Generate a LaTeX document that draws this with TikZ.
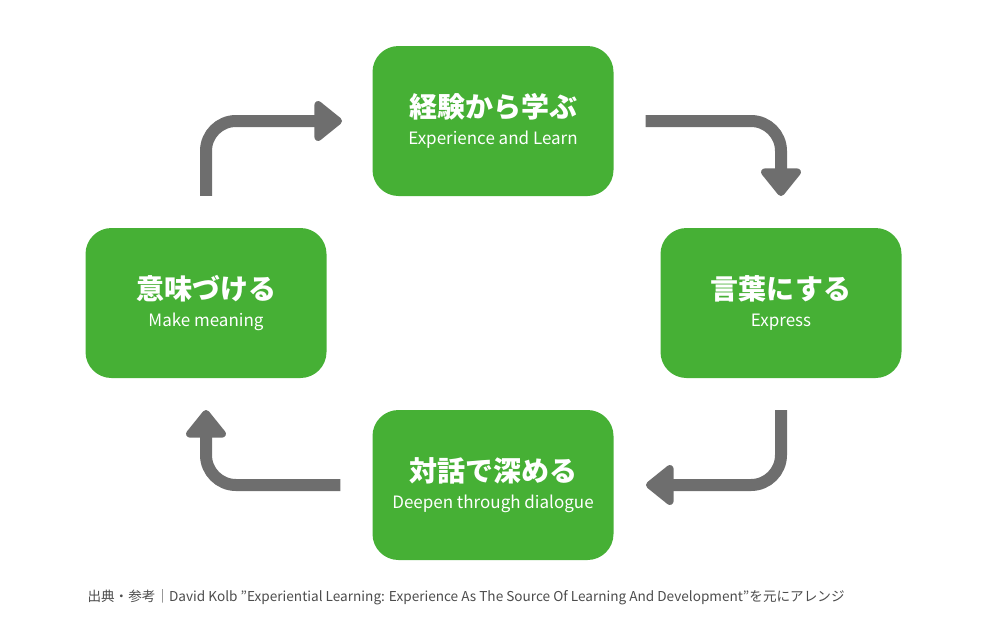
\documentclass[tikz,border=0pt]{standalone}
\usepackage{fontspec}
\setmainfont{Noto Sans CJK JP}
\usetikzlibrary{arrows.meta}
\definecolor{stepgreen}{HTML}{46B035}
\definecolor{flowgray}{HTML}{6E6E6E}
\tikzset{
  stage/.style={fill=stepgreen,rounded corners=26pt,minimum width=241pt,minimum height=150pt,
    text=white,align=center,inner sep=0pt},
  flow/.style={draw=flowgray,line width=12pt,rounded corners=30pt,
    -{Triangle[length=30pt,width=46pt,line join=round,round]}},
}
\newcommand{\stagelabel}[2]{{\fontsize{28}{32}\selectfont\bfseries #1}\\[10pt]{\fontsize{17}{19}\selectfont #2}}
\begin{document}
\begin{tikzpicture}[x=1pt,y=-1pt]
	\useasboundingbox (0,0) rectangle (986,640);
	\node[stage] (learn) at (493,121) {\stagelabel{経験から学ぶ}{Experience and Learn}};
	\node[stage] (express) at (781,303) {\stagelabel{言葉にする}{Express}};
	\node[stage] (dialogue) at (493,485) {\stagelabel{対話で深める}{Deepen through dialogue}};
	\node[stage] (meaning) at (206,303) {\stagelabel{意味づける}{Make meaning}};
	% arrows between stages
	\draw[flow] (meaning.north) ++(0,-32) -- (206,121) -- (342,121);
	\draw[flow] (learn.east) ++(32,0) -- (781,121) -- (781,196);
	\draw[flow] (express.south) ++(0,32) -- (781,485) -- (646,485);
	\draw[flow] (dialogue.west) ++(-32,0) -- (206,485) -- (206,410);
	\node[anchor=west,text=black!70,font=\fontsize{13.6}{15}\selectfont] (source) at (84,597)
	  {出典・参考｜David Kolb \symbol{34}Experiential Learning: Experience As The Source Of Learning And Development\symbol{34}を元にアレンジ};
\end{tikzpicture}
\end{document}
